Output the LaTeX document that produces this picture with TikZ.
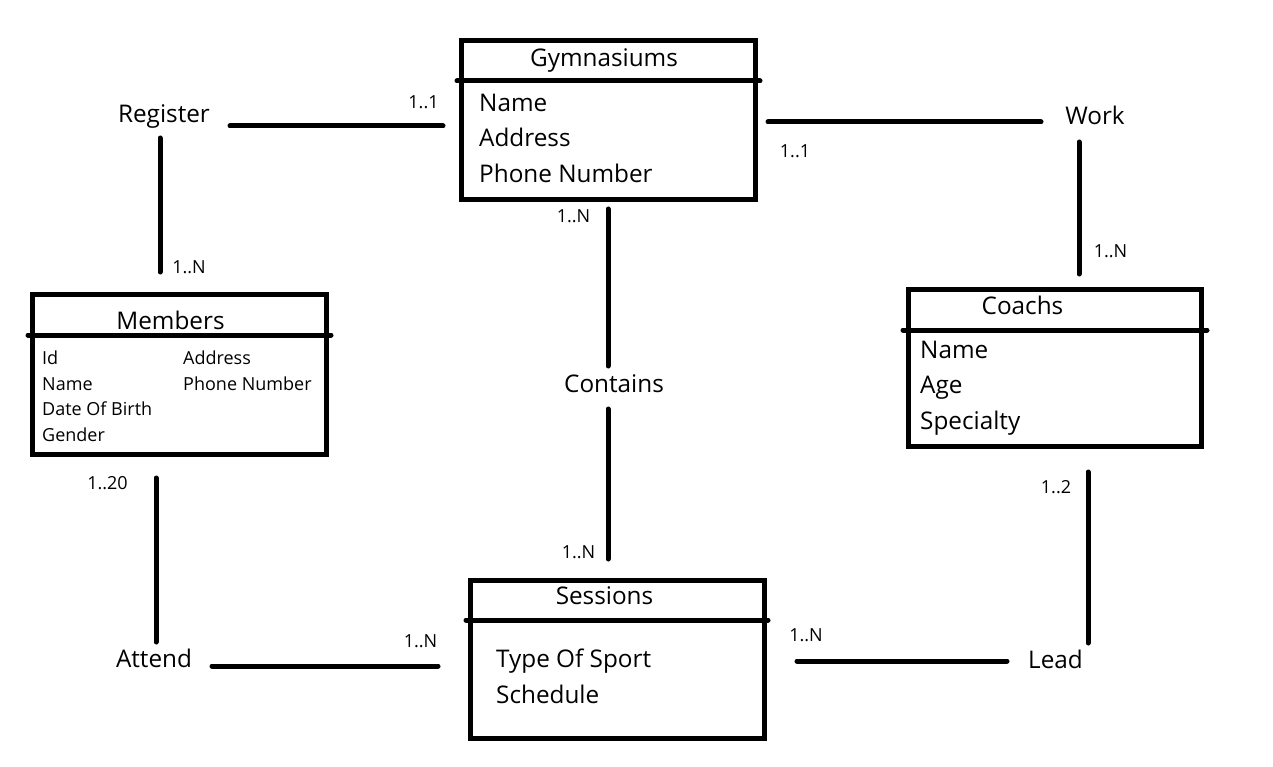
\documentclass[tikz,border=0pt]{standalone}
\usepackage{fontspec}
\setmainfont{Open Sans}
\begin{document}
\begin{tikzpicture}[x=1pt,y=-1pt,
  box/.style={draw, line width=5pt, inner sep=0pt, outer sep=0pt},
  divider/.style={line width=5pt, line cap=round},
  conn/.style={line width=5pt, line cap=round},
  big/.style={font=\fontsize{24.3}{28}\selectfont, inner sep=0pt, anchor=base west},
  bigc/.style={font=\fontsize{24.3}{28}\selectfont, inner sep=0pt, anchor=base},
  small/.style={font=\fontsize{18}{21}\selectfont, inner sep=0pt, anchor=base west},
  smallc/.style={font=\fontsize{18}{21}\selectfont, inner sep=0pt, anchor=base}]
\useasboundingbox (0,0) rectangle (1273,767);
\fill[white] (0,0) rectangle (1273,767);

% Gymnasiums
\node[box, minimum width=294pt, minimum height=158.5pt] (gym) at (608,120.25) {};
\draw[divider] (457,81) -- (760,81);
\node[bigc] (gymt) at (604,67) {Gymnasiums};
\node[big] (gym1) at (479,112) {Name};
\node[big] (gym2) at (479,147) {Address};
\node[big] (gym3) at (479,183) {Phone Number};

% Members
\node[box, minimum width=294pt, minimum height=160pt] (mem) at (179,374) {};
\draw[divider] (28,335) -- (331,335);
\node[bigc] (memt) at (170.5,329) {Members};
\node[small] (mem1) at (42,364) {Id};
\node[small] (mem2) at (42,390) {Name};
\node[small] (mem3) at (42,415) {Date Of Birth};
\node[small] (mem4) at (42,441) {Gender};
\node[small] (mem5) at (183,364) {Address};
\node[small] (mem6) at (183,390) {Phone Number};

% Coachs
\node[box, minimum width=293pt, minimum height=157pt] (coa) at (1054.5,367.5) {};
\draw[divider] (903,330) -- (1207,330);
\node[bigc] (coat) at (1022.5,314) {Coachs};
\node[big] (coa1) at (920,358) {Name};
\node[big] (coa2) at (920,393) {Age};
\node[big] (coa3) at (920,429) {Specialty};

% Sessions
\node[box, minimum width=294pt, minimum height=158pt] (ses) at (617,659) {};
\draw[divider] (466,620) -- (768,620);
\node[bigc] (sest) at (604.5,604) {Sessions};
\node[big] (ses1) at (496,667) {Type Of Sport};
\node[big] (ses2) at (496,703) {Schedule};

% Relationships
\node[bigc] (reg) at (164,123) {Register};
\node[bigc] (work) at (1095,125) {Work};
\node[bigc] (cont) at (614,392) {Contains};
\node[bigc] (att) at (154,667) {Attend};
\node[bigc] (lead) at (1055.5,668) {Lead};

% Connector end points
\coordinate (r1) at (230,126);  \coordinate (r2) at (443,126);
\coordinate (r3) at (160,138);  \coordinate (r4) at (160,272);
\coordinate (w1) at (768,122);  \coordinate (w2) at (1041,122);
\coordinate (w3) at (1079,142); \coordinate (w4) at (1079,274);
\coordinate (c1) at (608,209);  \coordinate (c2) at (608,366);
\coordinate (c3) at (608,409);  \coordinate (c4) at (608,559);
\coordinate (a1) at (156,478);  \coordinate (a2) at (156,642);
\coordinate (a3) at (212,666);  \coordinate (a4) at (438,666);
\coordinate (l1) at (1088,472); \coordinate (l2) at (1088,643);
\coordinate (l3) at (797,661);  \coordinate (l4) at (1007,661);

\draw[conn] (r1) -- (r2);
\draw[conn] (r3) -- (r4);
\draw[conn] (w1) -- (w2);
\draw[conn] (w3) -- (w4);
\draw[conn] (c1) -- (c2);
\draw[conn] (c3) -- (c4);
\draw[conn] (a1) -- (a2);
\draw[conn] (a3) -- (a4);
\draw[conn] (l1) -- (l2);
\draw[conn] (l3) -- (l4);

% Cardinalities
\node[smallc] (k1) at (423.5,109) {1..1};
\node[smallc] (k2) at (189,273) {1..N};
\node[smallc] (k3) at (795,158) {1..1};
\node[smallc] (k4) at (1110.5,258) {1..N};
\node[smallc] (k5) at (573.5,223) {1..N};
\node[smallc] (k6) at (578.5,558) {1..N};
\node[smallc] (k7) at (107.5,489) {1..20};
\node[smallc] (k8) at (420.5,647) {1..N};
\node[smallc] (k9) at (1056,493) {1..2};
\node[smallc] (k10) at (806,641) {1..N};
\end{tikzpicture}
\end{document}
